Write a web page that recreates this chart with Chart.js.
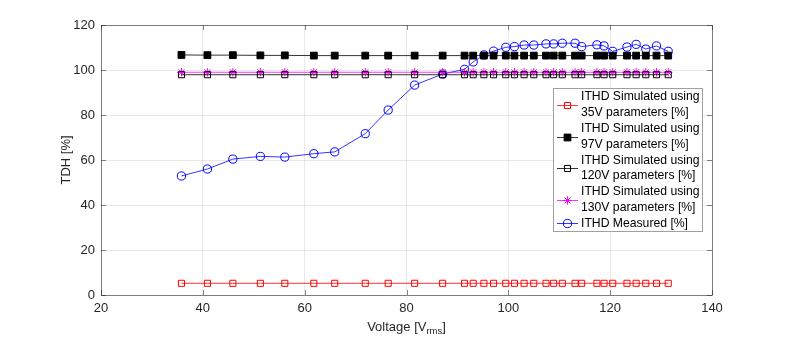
<!DOCTYPE html>
<html><head><meta charset="utf-8">
<script src="https://cdn.jsdelivr.net/npm/chart.js@4/dist/chart.umd.min.js"></script>
<style>html,body{margin:0;padding:0;background:#fff}#wrap{width:786px;height:340px}</style>
</head><body><div id="wrap"><canvas id="c" width="786" height="340"></canvas></div>
<script>
const voltage = [35.8, 40.9, 45.9, 51.3, 56.1, 61.8, 65.9, 71.9, 76.4, 81.6, 87.1, 91.4, 93.1, 95.2, 97.1, 99.5, 101.2, 103.1, 105.0, 107.4, 108.9, 110.6, 113.1, 114.4, 117.4, 118.8, 120.5, 123.3, 125.1, 127.0, 129.1, 131.4];
const sim35 = [5.2, 5.2, 5.2, 5.2, 5.2, 5.2, 5.2, 5.2, 5.2, 5.2, 5.2, 5.2, 5.2, 5.2, 5.2, 5.2, 5.2, 5.2, 5.2, 5.2, 5.2, 5.2, 5.2, 5.2, 5.2, 5.2, 5.2, 5.2, 5.2, 5.2, 5.2, 5.2];
const sim97 = [106.7, 106.6, 106.6, 106.5, 106.5, 106.4, 106.4, 106.4, 106.4, 106.4, 106.4, 106.4, 106.4, 106.4, 106.4, 106.4, 106.4, 106.4, 106.4, 106.4, 106.4, 106.4, 106.4, 106.4, 106.4, 106.4, 106.4, 106.4, 106.4, 106.4, 106.4, 106.4];
const sim120 = [97.9, 97.9, 97.9, 97.9, 97.9, 97.9, 97.9, 97.9, 97.9, 97.9, 97.9, 97.9, 97.9, 97.9, 97.9, 97.9, 97.9, 97.9, 97.9, 97.9, 97.9, 97.9, 97.9, 97.9, 97.9, 97.9, 97.9, 97.9, 97.9, 97.9, 97.9, 97.9];
const sim130 = [99.0, 99.0, 99.0, 99.0, 99.0, 99.0, 99.0, 99.0, 99.0, 99.0, 99.0, 99.0, 99.0, 99.0, 99.0, 99.0, 99.0, 99.0, 99.0, 99.0, 99.0, 99.0, 99.0, 99.0, 99.0, 99.0, 99.0, 99.0, 99.0, 99.0, 99.0, 99.0];
const measured = [52.9, 56.0, 60.4, 61.6, 61.3, 62.8, 63.6, 71.7, 82.2, 93.3, 98.2, 100.3, 103.6, 106.7, 108.4, 110.1, 110.4, 111.1, 111.1, 111.6, 111.6, 111.9, 111.9, 110.4, 111.2, 110.7, 108.3, 110.2, 111.4, 109.3, 110.7, 108.3];
const labels = ["ITHD Simulated using\n35V parameters [%]", "ITHD Simulated using\n97V parameters [%]", "ITHD Simulated using\n120V parameters [%]", "ITHD Simulated using\n130V parameters [%]", "ITHD Measured [%]"];
const xTicks = [20, 40, 60, 80, 100, 120, 140];
const yTicks = [0, 20, 40, 60, 80, 100, 120];

const FONT = "'Liberation Sans', Arial, sans-serif";
const pts = ys => voltage.map((v, i) => ({x: v, y: ys[i]}));

const styles = [
  {color: '#ff0000', style: 'rect', fill: 'rgba(0,0,0,0)', r: 4.3},
  {color: '#000000', style: 'rect', fill: '#000000', r: 4.8},
  {color: '#000000', style: 'rect', fill: 'rgba(0,0,0,0)', r: 4.3},
  {color: '#ff00ff', style: 'star', fill: '#ff00ff', r: 4.2},
  {color: '#0000ff', style: 'circle', fill: 'rgba(0,0,0,0)', r: 4.1}
];
const series = [sim35, sim97, sim120, sim130, measured];

const datasets = series.map((s, i) => ({
  label: labels[i],
  data: pts(s),
  showLine: true,
  borderColor: styles[i].color,
  borderWidth: 0.8,
  pointStyle: styles[i].style,
  pointRadius: styles[i].r,
  pointHoverRadius: styles[i].r,
  pointBorderColor: styles[i].color,
  pointBackgroundColor: styles[i].fill,
  pointBorderWidth: 1,
  clip: false
}));

function marker(ctx, st, x, y) {
  ctx.save();
  ctx.strokeStyle = st.color;
  ctx.fillStyle = st.fill;
  ctx.lineWidth = 1;
  ctx.beginPath();
  if (st.style === 'rect') {
    const s = st.r / Math.SQRT2;
    ctx.rect(x - s, y - s, 2 * s, 2 * s);
    ctx.fill(); ctx.stroke();
  } else if (st.style === 'circle') {
    ctx.arc(x, y, st.r, 0, Math.PI * 2);
    ctx.stroke();
  } else {
    const r = st.r;
    const d = r * Math.SQRT1_2;
    ctx.moveTo(x - r, y); ctx.lineTo(x + r, y);
    ctx.moveTo(x, y - r); ctx.lineTo(x, y + r);
    ctx.moveTo(x - d, y - d); ctx.lineTo(x + d, y + d);
    ctx.moveTo(x - d, y + d); ctx.lineTo(x + d, y - d);
    ctx.stroke();
  }
  ctx.restore();
}

const frame = {
  id: 'frame',
  afterDatasetsDraw(chart) {
    const {ctx, chartArea: a, scales} = chart;
    ctx.save();
    ctx.strokeStyle = '#262626';
    ctx.lineWidth = 1;
    ctx.globalAlpha = 0.55;
    ctx.beginPath();
    ctx.rect(Math.round(a.left) + 0.5, Math.round(a.top) + 0.5, Math.round(a.right - a.left), Math.round(a.bottom - a.top));
    ctx.stroke();
    const tl = 5;
    ctx.beginPath();
    xTicks.forEach(v => {
      const x = Math.round(scales.x.getPixelForValue(v)) + 0.5;
      ctx.moveTo(x, a.bottom); ctx.lineTo(x, a.bottom - tl);
      ctx.moveTo(x, a.top); ctx.lineTo(x, a.top + tl);
    });
    yTicks.forEach(v => {
      const y = Math.round(scales.y.getPixelForValue(v)) + 0.5;
      ctx.moveTo(a.left, y); ctx.lineTo(a.left + tl, y);
      ctx.moveTo(a.right, y); ctx.lineTo(a.right - tl, y);
    });
    ctx.stroke();
    ctx.globalAlpha = 1;
    ctx.fillStyle = '#262626';
    ctx.font = '13px ' + FONT;
    ctx.textBaseline = 'alphabetic';
    const main = 'Voltage [V', sub = 'rms', end = ']';
    const wm = ctx.measureText(main).width;
    ctx.font = '9.5px ' + FONT;
    const ws = ctx.measureText(sub).width;
    ctx.font = '13px ' + FONT;
    const we = ctx.measureText(end).width;
    const cx = (a.left + a.right) / 2;
    const x0 = cx - (wm + ws + we) / 2;
    const base = 331;
    ctx.textAlign = 'left';
    ctx.fillText(main, x0, base);
    ctx.font = '9.5px ' + FONT;
    ctx.fillText(sub, x0 + wm, base + 3);
    ctx.font = '13px ' + FONT;
    ctx.fillText(end, x0 + wm + ws, base);
    ctx.save();
    ctx.translate(70, (a.top + a.bottom) / 2);
    ctx.rotate(-Math.PI / 2);
    ctx.textAlign = 'center';
    ctx.fillText('TDH [%]', 0, 0);
    ctx.restore();
    ctx.restore();
  },
  afterDraw(chart) {
    const {ctx} = chart;
    const L = 553.5, T = 88.5, W = 149, H = 143;
    ctx.save();
    ctx.fillStyle = '#fff';
    ctx.fillRect(L, T, W, H);
    ctx.strokeStyle = '#a0a0a0';
    ctx.lineWidth = 1;
    ctx.strokeRect(L, T, W, H);
    ctx.font = '12.2px ' + FONT;
    ctx.textAlign = 'left';
    ctx.textBaseline = 'middle';
    const lineH = 15.8;
    let y = 97;
    chart.data.datasets.forEach((ds, i) => {
      const lines = ds.label.split('\n');
      const cy = Math.round(y + (lines.length - 1) * lineH / 2) + 0.5;
      const st = styles[i];
      ctx.strokeStyle = st.color;
      ctx.lineWidth = 0.8;
      ctx.beginPath();
      ctx.moveTo(557, cy); ctx.lineTo(578, cy);
      ctx.stroke();
      marker(ctx, st, 567.5, cy);
      ctx.fillStyle = '#000';
      lines.forEach((t, k) => ctx.fillText(t, 581, y + k * lineH));
      y += lines.length * lineH;
    });
    ctx.restore();
  }
};

new Chart(document.getElementById('c'), {
  type: 'scatter',
  data: {datasets},
  options: {
    responsive: false,
    animation: false,
    layout: {padding: {top: 25, right: 74, left: 0, bottom: 0}},
    plugins: {legend: {display: false}, tooltip: {enabled: false}},
    scales: {
      x: {
        type: 'linear', min: 20, max: 140,
        afterFit(s) { s.height = 45; },
        afterBuildTicks(s) { s.ticks = xTicks.map(v => ({value: v})); },
        ticks: {color: '#262626', font: {size: 13, family: FONT}, padding: 6, maxRotation: 0},
        grid: {color: 'rgba(0,0,0,0.09)', drawTicks: false},
        border: {display: false}
      },
      y: {
        type: 'linear', min: 0, max: 120,
        afterFit(s) { s.width = 101; },
        afterBuildTicks(s) { s.ticks = yTicks.map(v => ({value: v})); },
        ticks: {color: '#262626', font: {size: 13, family: FONT}, padding: 6},
        grid: {color: 'rgba(0,0,0,0.09)', drawTicks: false},
        border: {display: false}
      }
    }
  },
  plugins: [frame]
});
</script></body></html>
